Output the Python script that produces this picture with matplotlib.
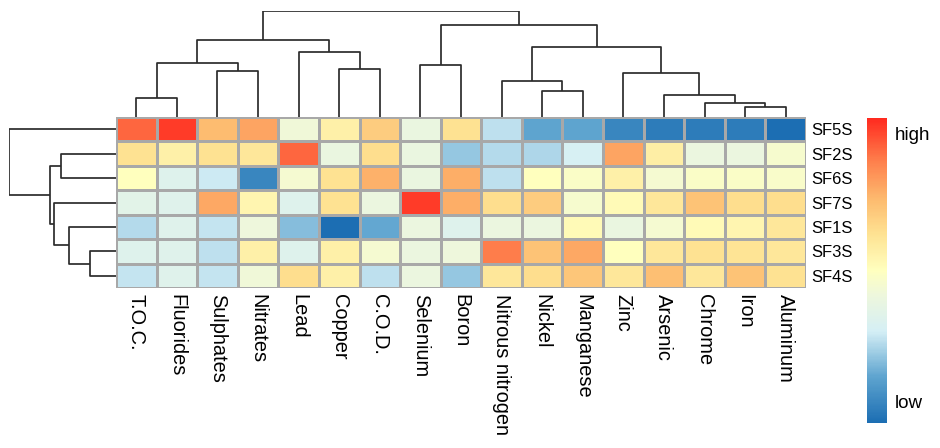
import numpy as np
import matplotlib
matplotlib.use('Agg')
import matplotlib.pyplot as plt
from matplotlib.colors import LinearSegmentedColormap, Normalize
from matplotlib.colorbar import ColorbarBase

plt.rcParams['font.family'] = ['Liberation Sans', 'DejaVu Sans']

# Column / row labels in clustered order
cols = ['T.O.C.', 'Fluorides', 'Sulphates', 'Nitrates', 'Lead', 'Copper', 'C.O.D.',
        'Selenium', 'Boron', 'Nitrous nitrogen', 'Nickel', 'Manganese', 'Zinc',
        'Arsenic', 'Chrome', 'Iron', 'Aluminum']
rows = ['SF5S', 'SF2S', 'SF6S', 'SF7S', 'SF1S', 'SF3S', 'SF4S']

# Scaled values (0 = low, 1 = high), one list per row
sf5s = [0.90, 0.97, 0.73, 0.78, 0.43, 0.56, 0.68, 0.40, 0.62, 0.27, 0.15, 0.15, 0.07, 0.04, 0.04, 0.04, 0.00]
sf2s = [0.62, 0.56, 0.62, 0.60, 0.90, 0.40, 0.63, 0.40, 0.22, 0.26, 0.25, 0.31, 0.78, 0.57, 0.41, 0.41, 0.46]
sf6s = [0.50, 0.34, 0.29, 0.07, 0.45, 0.62, 0.75, 0.40, 0.76, 0.27, 0.50, 0.48, 0.56, 0.45, 0.48, 0.48, 0.47]
sf7s = [0.36, 0.35, 0.77, 0.54, 0.34, 0.62, 0.41, 0.97, 0.76, 0.63, 0.68, 0.46, 0.52, 0.60, 0.71, 0.63, 0.63]
sf1s = [0.26, 0.35, 0.28, 0.42, 0.20, 0.00, 0.16, 0.41, 0.34, 0.41, 0.41, 0.52, 0.40, 0.45, 0.52, 0.54, 0.60]
sf3s = [0.34, 0.35, 0.27, 0.56, 0.34, 0.56, 0.45, 0.41, 0.42, 0.86, 0.71, 0.77, 0.50, 0.60, 0.62, 0.61, 0.60]
sf4s = [0.28, 0.35, 0.28, 0.43, 0.63, 0.56, 0.27, 0.41, 0.22, 0.60, 0.63, 0.70, 0.60, 0.72, 0.60, 0.71, 0.62]

# Dendrogram merges: (left id, right id, height); ids >= n are earlier merges
col_link = [(0, 1, 57), (2, 3, 139), (17, 18, 162), (5, 6, 145), (4, 20, 197),
            (19, 21, 232), (7, 8, 156), (10, 11, 79), (9, 24, 107), (15, 16, 29),
            (14, 26, 42), (13, 27, 67), (12, 28, 131), (25, 29, 212), (23, 30, 276),
            (22, 31, 319)]
row_link = [(1, 2, 163), (5, 6, 77), (4, 8, 140), (3, 9, 185), (7, 10, 197), (0, 11, 317)]

data = np.array([sf5s, sf2s, sf6s, sf7s, sf1s, sf3s, sf4s])

cmap = LinearSegmentedColormap.from_list(
    'heat', [(0.0, '#1c6eb3'), (0.15, '#5ea4cf'), (0.30, '#d5eff5'),
             (0.42, '#eef7dc'), (0.50, '#ffffbf'), (0.62, '#fee292'),
             (0.73, '#fdbc70'), (0.86, '#fe7f4c'), (1.0, '#ff2a1f')])

W, H = 940, 448
fig = plt.figure(figsize=(W / 100, H / 100), dpi=100)


def px_axes(x0, y0, x1, y1):
    # axes from pixel box (top-left origin)
    return fig.add_axes([x0 / W, 1 - y1 / H, (x1 - x0) / W, (y1 - y0) / H])


def draw_dendro(ax, link, n, orient):
    pos = {i: i + 0.5 for i in range(n)}
    hgt = {i: 0.0 for i in range(n)}
    for k, (a, b, h) in enumerate(link):
        xa, xb = pos[a], pos[b]
        p = [xa, xa, xb, xb]
        q = [hgt[a], h, h, hgt[b]]
        if orient == 'top':
            ax.plot(p, q, color='#2b2b2b', lw=1.25, solid_capstyle='butt')
        else:
            ax.plot(q, p, color='#2b2b2b', lw=1.25, solid_capstyle='butt')
        pos[n + k] = (xa + xb) / 2
        hgt[n + k] = h
    ax.axis('off')


# heatmap
ax = px_axes(116, 117, 806, 288)
ax.pcolormesh(data, cmap=cmap, vmin=0, vmax=1, edgecolors='#a8a8a8', linewidth=1.0)
ax.set_xlim(0, len(cols))
ax.set_ylim(len(rows), 0)
ax.set_xticks(np.arange(len(cols)) + 0.5)
ax.set_xticklabels(cols, rotation=270, fontsize=14.4, ha='center', va='top')
ax.set_yticks(np.arange(len(rows)) + 0.5)
ax.set_yticklabels(rows, fontsize=12)
ax.yaxis.tick_right()
ax.tick_params(axis='x', length=0, pad=4)
ax.tick_params(axis='y', length=0, pad=4)
for s in ax.spines.values():
    s.set_visible(False)

# column dendrogram
axc = px_axes(116, 11, 806, 117)
draw_dendro(axc, col_link, len(cols), 'top')
axc.set_xlim(0, len(cols))
axc.set_ylim(0, max(h for _, _, h in col_link))

# row dendrogram
axr = px_axes(9, 117, 116, 288)
draw_dendro(axr, row_link, len(rows), 'left')
axr.set_xlim(max(h for _, _, h in row_link), 0)
axr.set_ylim(len(rows), 0)

# legend bar
axl = px_axes(867, 118, 887, 423)
cb = ColorbarBase(axl, cmap=cmap, norm=Normalize(0, 1), orientation='vertical')
cb.set_ticks([])
cb.outline.set_visible(False)
fig.text(895 / W, 1 - 135 / H, 'high', fontsize=13.5, va='center', ha='left')
fig.text(895 / W, 1 - 403 / H, 'low', fontsize=13.5, va='center', ha='left')

fig.savefig('out.png', dpi=100)
